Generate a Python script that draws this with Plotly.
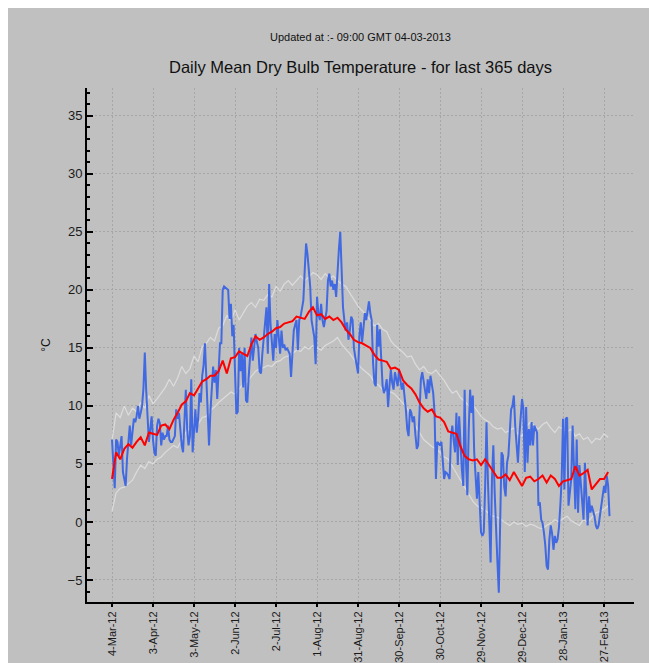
import pandas as pd
from plotly import graph_objects as go

# daily mean dry bulb temperature (degC), one value per day from 4-Mar-12
spring_temps = [
    7.1, 4.9, 2.9, 7.1, 6.9, 5.7, 6.5, 7.4, 4.3, 3.7,
    3.1, 5.5, 7.1, 8.3, 6.6, 8.0, 8.9, 8.6, 9.1, 10.0,
    8.9, 9.4, 10.0, 11.5, 14.6, 11.4, 8.3, 6.9, 8.0, 9.1,
    7.1, 6.0, 5.7, 8.3, 8.9, 8.5, 6.6, 7.7, 7.1, 7.4,
    7.4, 8.3, 7.1, 6.9, 6.9, 7.2, 7.4, 9.7, 8.9, 9.4,
    7.8, 6.6, 6.0, 8.6, 11.4, 8.0, 6.6, 7.4, 12.3, 6.0,
    8.5, 9.7, 7.7, 8.9, 11.1, 10.3, 12.6, 13.5, 15.4, 12.3,
    8.3, 6.6, 9.5, 11.4, 13.4, 12.0, 13.1, 10.6, 12.5, 15.4,
    15.4, 20.0, 20.3, 20.2, 20.1, 20.0, 17.5, 18.8, 16.0, 17.0,
    13.0, 9.3, 9.5,
]
summer_temps = [
    15.0, 13.0, 14.5, 11.6, 15.0, 10.5, 10.3,
    12.5, 14.5, 15.9, 13.9, 15.0, 16.2, 15.5, 15.0, 13.0, 12.8,
    14.5, 15.9, 17.4, 18.5, 14.5, 20.5, 17.0, 15.7, 13.9, 16.2,
    15.0, 17.4, 16.0, 14.5, 16.5, 15.0, 15.3, 14.8, 15.0, 14.8,
    14.5, 12.5, 15.0, 16.5, 17.0, 17.4, 14.8, 17.4, 17.7, 18.5,
    19.1, 21.7, 24.0, 23.1, 21.5, 20.3, 17.4, 16.8, 15.9, 13.6,
    19.4, 18.0, 17.4, 18.8, 17.4, 16.8, 17.5, 18.2, 20.8, 21.4,
    20.3, 20.8, 20.0, 20.5, 19.4, 21.7, 23.5, 25.0, 21.7, 18.5,
    17.4, 16.5, 17.2, 15.7, 16.5, 17.7, 17.4, 15.0, 14.2, 13.6,
    12.8, 16.0, 17.2, 15.5,
]
autumn_temps = [
    16.5, 18.0, 17.4, 18.5, 19.0, 18.0,
    17.4, 13.7, 12.0, 11.7, 17.0, 15.1, 16.6, 14.0, 11.7, 11.1,
    11.5, 12.3, 9.9, 11.7, 13.1, 12.0, 11.4, 12.9, 12.3, 11.7,
    13.1, 12.0, 11.4, 12.0, 10.9, 9.7, 8.0, 7.4, 9.7, 9.4,
    8.6, 9.1, 7.5, 6.3, 6.6, 8.9, 12.3, 12.9, 12.0, 11.4,
    10.6, 12.3, 11.1, 12.6, 12.0, 11.1, 9.4, 3.7, 6.9, 6.7,
    6.6, 6.9, 4.9, 3.7, 4.3, 4.2, 4.0, 3.7, 7.4, 8.3,
    7.0, 6.0, 9.4, 4.9, 9.1, 6.0, 4.5, 3.1, 11.4, 5.1,
    2.3, 8.0, 11.4, 9.4, 10.9, 6.0, 3.5, 2.0, 4.3, 2.0,
]
winter_temps = [
    -0.9, -1.2, -0.9, 3.0, 8.6, 3.7, -1.0, -3.5, 3.7, 6.6,
    2.5, -1.2, -3.5, -6.1, -0.6, 6.0, 5.7, 3.0, 2.2, 5.1,
    5.7, 7.7, 9.7, 10.0, 10.9, 8.3, 6.6, 5.1, 7.4, 9.0,
    10.6, 9.7, 4.3, 9.9, 5.1, 8.0, 6.6, 8.6, 6.6, 8.3,
    8.0, 7.7, 1.4, 1.7, 0.2, -0.1, -0.9, -2.0, -3.8, -4.1,
    -1.5, -0.3, -1.0, -2.4, -1.2, -1.8, -1.5, -0.5, 1.4, 3.7,
    8.9, 2.8, 8.9, 9.0, 1.4, 2.5, 3.7, 8.3, 3.4, 1.1,
    7.1, 0.8, 4.9, 3.0, 2.0, 0.2, 5.1, 2.0, -0.3, 2.2,
    0.8, 1.4, 1.0, 0.5, -0.3, -0.6, -0.3, 0.5, 1.4, 2.0,
    3.1, 2.5, 4.0, 3.1, 0.5,
]

# long term average and its upper / lower band, every 3rd day from 4-Mar-12
long_term_avg = [
    3.7, 6.0, 5.4, 6.3, 6.7, 6.4, 6.9, 7.3, 6.6, 7.7,
    7.6, 7.5, 8.3, 8.4, 8.0, 8.8, 9.4, 10.1, 10.4, 11.1,
    10.9, 11.5, 12.1, 12.3, 12.6, 12.6, 13.0, 13.9, 12.8, 14.1,
    14.2, 14.7, 14.5, 14.3, 15.3, 16.0, 15.7, 15.9, 16.2, 16.4,
    16.7, 16.8, 17.1, 17.2, 17.3, 17.7, 17.6, 17.5, 18.1, 18.5,
    17.8, 17.9, 17.5, 17.7, 17.4, 17.6, 17.2, 16.6, 16.2, 15.7,
    15.5, 15.4, 15.2, 15.0, 14.4, 14.0, 13.9, 13.8, 13.2, 13.3,
    13.1, 12.2, 11.8, 11.5, 11.0, 10.3, 9.8, 9.5, 9.7, 9.1,
    9.0, 8.6, 7.8, 7.7, 7.6, 6.5, 5.7, 5.4, 5.3, 5.4,
    4.9, 5.4, 4.9, 4.4, 3.8, 3.8, 4.1, 3.6, 4.3, 3.7,
    3.1, 3.8, 3.9, 3.5, 3.7, 4.0, 3.4, 4.0, 3.7, 3.1,
    3.5, 3.6, 3.7, 4.8, 4.0, 4.2, 4.5, 2.8, 3.3, 3.7,
    3.7, 4.3,
]
upper_band = [
    7.0, 9.4, 9.0, 10.0, 9.2, 9.8, 9.5, 10.3, 9.8, 10.9,
    10.2, 10.6, 11.1, 11.6, 12.3, 11.7, 12.4, 13.4, 12.8, 13.2,
    14.3, 13.8, 15.1, 15.4, 15.9, 15.6, 16.7, 16.9, 17.8, 17.3,
    18.3, 17.4, 18.0, 18.6, 18.9, 18.5, 19.2, 19.1, 19.6, 19.4,
    20.3, 19.9, 20.5, 20.8, 20.4, 20.8, 21.2, 20.8, 21.1, 21.5,
    21.3, 20.9, 21.4, 21.0, 21.2, 20.8, 20.5, 20.3, 19.7, 19.2,
    18.6, 18.2, 17.8, 17.4, 16.9, 17.1, 16.6, 16.4, 15.6, 15.2,
    14.9, 14.6, 14.2, 14.3, 13.6, 13.1, 13.4, 12.9, 12.8, 13.1,
    12.6, 12.2, 11.6, 11.1, 11.3, 10.7, 10.4, 10.0, 10.1, 9.6,
    9.1, 8.8, 8.6, 8.2, 8.0, 8.1, 7.7, 7.9, 8.1, 7.6,
    7.4, 8.2, 8.6, 8.3, 8.0, 8.4, 8.6, 8.1, 7.7, 8.2,
    8.0, 7.8, 8.0, 7.4, 7.6, 7.1, 7.3, 6.8, 7.2, 7.1,
    7.6, 7.3,
]
lower_band = [
    0.9, 2.5, 2.9, 3.0, 3.3, 3.6, 4.3, 4.9, 4.6, 5.2,
    5.0, 5.4, 5.6, 6.0, 6.3, 6.6, 6.4, 7.1, 7.7, 8.1,
    8.6, 8.4, 9.0, 9.1, 9.6, 9.9, 10.3, 10.6, 10.9, 11.2,
    11.0, 11.5, 11.9, 12.1, 12.6, 13.0, 13.2, 13.3, 13.5, 13.4,
    13.8, 13.9, 14.2, 14.3, 14.5, 14.8, 14.7, 15.1, 14.9, 15.2,
    15.0, 14.8, 15.2, 15.4, 15.6, 15.9, 15.3, 14.9, 14.5, 14.0,
    13.6, 13.2, 12.9, 12.6, 12.0, 11.8, 11.4, 11.1, 11.2, 11.0,
    10.6, 10.2, 9.8, 9.2, 8.3, 7.7, 7.1, 6.8, 6.5, 6.3,
    6.0, 5.6, 5.4, 4.8, 4.2, 3.6, 2.9, 2.4, 1.8, 1.4,
    1.2, 1.0, 0.7, 0.5, 0.4, 0.2, -0.1, -0.3, 0.0, -0.2,
    -0.1, -0.4, -0.2, -0.3, -0.5, -0.6, -0.3, -0.1, 0.2, 0.0,
    0.3, 0.5, 0.1, -0.1, -0.3, 0.2, 0.0, 0.4, 0.8, 0.9,
    1.1, 1.4,
]

tick_labels = [
    "4-Mar-12", "3-Apr-12", "3-May-12", "2-Jun-12", "2-Jul-12", "1-Aug-12",
    "31-Aug-12", "30-Sep-12", "30-Oct-12", "29-Nov-12", "29-Dec-12",
    "28-Jan-13", "27-Feb-13",
]

title_text = "Daily Mean Dry Bulb Temperature - for last 365 days"
updated_text = "Updated at :- 09:00 GMT 04-03-2013"

daily_temps = spring_temps + summer_temps + autumn_temps + winter_temps
daily_dates = pd.date_range("2012-03-04", periods=len(daily_temps), freq="D")
band_dates = pd.date_range("2012-03-04", periods=len(long_term_avg), freq="3D")
tick_dates = pd.to_datetime(tick_labels, format="%d-%b-%y")

BG = "#c0c0c0"
FONT = "Liberation Sans, Arial, sans-serif"

fig = go.Figure()

fig.add_trace(
    go.Scatter(x=band_dates, y=upper_band, mode="lines",
               line=dict(color="#dcdcdc", width=1.2), name="upper")
)
fig.add_trace(
    go.Scatter(x=band_dates, y=lower_band, mode="lines",
               line=dict(color="#dcdcdc", width=1.2), name="lower")
)
fig.add_trace(
    go.Scatter(x=daily_dates, y=daily_temps, mode="lines",
               line=dict(color="#4169e1", width=2), name="daily")
)
fig.add_trace(
    go.Scatter(x=band_dates, y=long_term_avg, mode="lines",
               line=dict(color="#ff0000", width=2), name="average")
)

# page adds an 8px body margin, so the figure is a bit smaller than the window
fig.update_layout(
    width=643,
    height=655,
    showlegend=False,
    paper_bgcolor=BG,
    plot_bgcolor=BG,
    margin=dict(l=79, r=17, t=80, b=61),
    font=dict(family=FONT, color="#1a1a1a"),
    annotations=[
        dict(text=title_text, xref="paper", yref="paper", x=0.5, y=1.041,
             yanchor="middle", showarrow=False,
             font=dict(size=16.5, color="#111")),
        dict(text=updated_text, xref="paper", yref="paper", x=0.5, y=1.099,
             yanchor="middle", showarrow=False,
             font=dict(size=11, color="#111")),
        dict(text="°C", xref="paper", yref="paper", x=-0.092, y=0.5,
             textangle=-90, showarrow=False, font=dict(size=12, color="#111")),
    ],
    xaxis=dict(
        type="date",
        range=["2012-02-14 17:00", "2013-03-20 22:00"],
        tickvals=tick_dates,
        ticktext=tick_labels,
        tickangle=-90,
        tickfont=dict(size=11),
        ticks="outside",
        ticklen=3,
        tickcolor="black",
        tickwidth=1.5,
        showline=True,
        linecolor="black",
        linewidth=2,
        showgrid=True,
        gridcolor="#a6a6a6",
        griddash="2px,2px",
        gridwidth=1,
        zeroline=False,
        automargin=False,
    ),
    yaxis=dict(
        range=[-6.9, 37.4],
        tick0=0,
        dtick=5,
        tickfont=dict(size=13),
        ticks="inside",
        ticklen=6,
        tickcolor="black",
        tickwidth=1.5,
        minor=dict(dtick=1, ticks="inside", ticklen=3, tickcolor="black",
                   showgrid=False),
        showline=True,
        linecolor="black",
        linewidth=2,
        showgrid=True,
        gridcolor="#a6a6a6",
        griddash="2px,2px",
        gridwidth=1,
        zeroline=False,
        automargin=False,
    ),
)

fig.write_html("out.html")
